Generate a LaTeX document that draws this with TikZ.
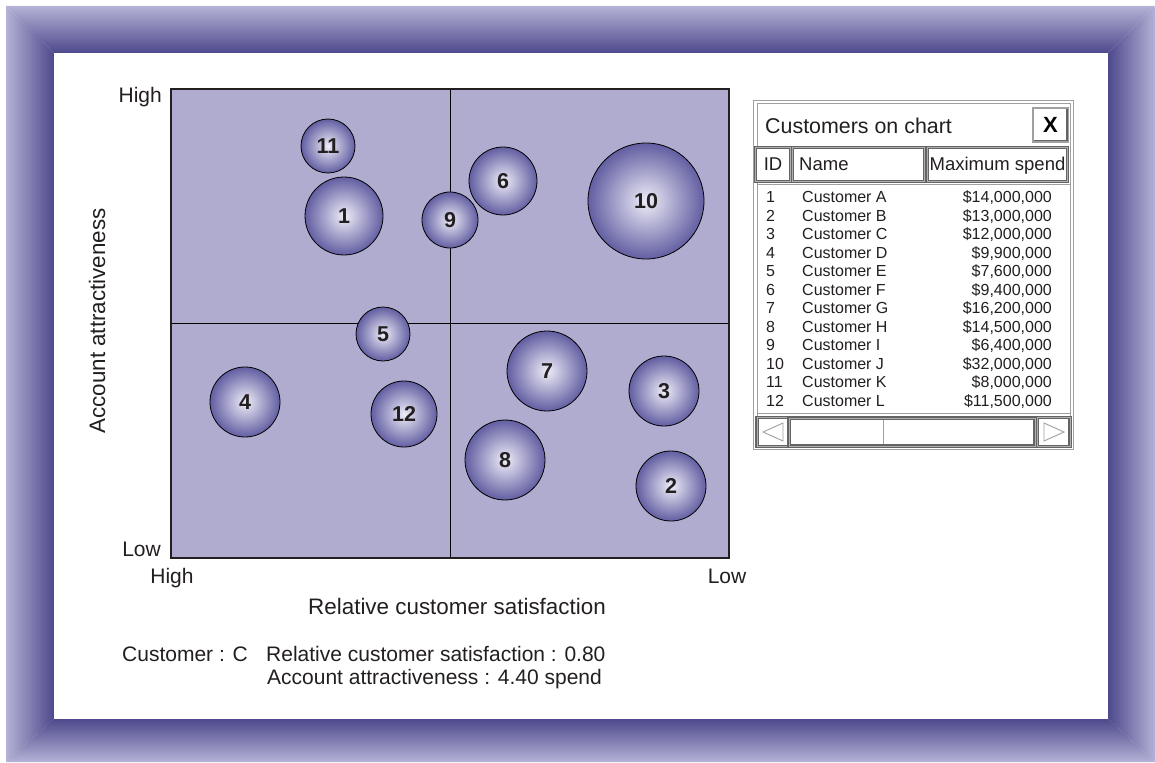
\documentclass[tikz,border=0pt]{standalone}
\usepackage{fontspec}
\setmainfont{Liberation Sans}
\definecolor{frameLight}{RGB}{180,178,214}
\definecolor{frameDark}{RGB}{78,73,140}
\definecolor{plotFill}{RGB}{176,172,207}
\definecolor{bubbleIn}{RGB}{238,237,247}
\definecolor{bubbleOut}{RGB}{98,94,162}
\definecolor{axisCol}{RGB}{35,31,32}
\definecolor{textCol}{RGB}{35,31,32}
\definecolor{panelLine}{RGB}{160,160,160}
\definecolor{panelDark}{RGB}{100,100,100}
\definecolor{panelMid}{RGB}{175,175,175}
\begin{document}
\begin{tikzpicture}[x=1pt,y=-1pt,
  lbl/.style={font=\fontsize{21}{25}\selectfont, text=textCol, inner sep=0pt},
  axtitle/.style={font=\fontsize{22.4}{26}\selectfont, text=textCol, inner sep=0pt},
  rowtxt/.style={font=\fontsize{16}{19}\selectfont, text=textCol, inner sep=0pt},
  hdrtxt/.style={font=\fontsize{18.5}{22}\selectfont, text=textCol, inner sep=0pt},
  bubble/.style={circle, draw=black, line width=0.8pt, inner color=bubbleIn,
    outer color=bubbleOut, font=\fontsize{21.5}{25}\selectfont\bfseries,
    text=textCol, inner sep=0pt, outer sep=0pt},
  hcell/.style={rectangle, draw=panelDark, line width=1.1pt, double=panelMid,
    double distance=0.9pt, fill=white, inner sep=0pt, outer sep=0pt},
  framepart/.style={draw=none}
]
\useasboundingbox (0,0) rectangle (1155,762);
\fill[white] (0,0) rectangle (1155,762);
% ---- gradient frame ----
\shade[framepart, top color=frameLight, bottom color=frameDark]
  (6,6) -- (1155,6) -- (1108,53) -- (54,53) -- cycle;
\shade[framepart, left color=frameLight, right color=frameDark]
  (6,6) -- (54,53) -- (54,719) -- (6,762) -- cycle;
\shade[framepart, left color=frameDark, right color=frameLight]
  (1155,6) -- (1155,762) -- (1108,719) -- (1108,53) -- cycle;
\shade[framepart, top color=frameDark, bottom color=frameLight]
  (54,719) -- (1108,719) -- (1155,762) -- (6,762) -- cycle;
\fill[white] (54,53) rectangle (1108,719);

% ---- plot area ----
\node[rectangle, fill=plotFill, draw=axisCol, line width=2.5pt,
  minimum width=558pt, minimum height=469pt, inner sep=0pt, outer sep=0pt]
  (plot) at (450,323.5) {};
\draw[black, line width=0.8pt] (plot.north) -- (plot.south);
\draw[black, line width=0.8pt] (plot.west) -- (plot.east);
\draw[axisCol, line width=2.5pt] (plot.north west) rectangle (plot.south east);

% ---- bubbles ----
\node[bubble, minimum size=54pt] (b11) at (328,146) {11};
\node[bubble, minimum size=78pt] (b1) at (344,216) {1};
\node[bubble, minimum size=56pt] (b9) at (450,220) {9};
\node[bubble, minimum size=68pt] (b6) at (503,181) {6};
\node[bubble, minimum size=116pt] (b10) at (646,201) {10};
\node[bubble, minimum size=54pt] (b5) at (383,334) {5};
\node[bubble, minimum size=70pt] (b4) at (245,402) {4};
\node[bubble, minimum size=66pt] (b12) at (404,414) {12};
\node[bubble, minimum size=80pt] (b7) at (547,371) {7};
\node[bubble, minimum size=80pt] (b8) at (505,460) {8};
\node[bubble, minimum size=70pt] (b3) at (664,391) {3};
\node[bubble, minimum size=70pt] (b2) at (671,486) {2};

% ---- axis labels ----
\node[lbl, anchor=base east] (yhigh) at (162,103) {High};
\node[lbl, anchor=base east] (ylow) at (161,556) {Low};
\node[lbl, anchor=base] (xhigh) at (172,583) {High};
\node[lbl, anchor=base] (xlow) at (727,583) {Low};
\node[axtitle, anchor=base] (xtitle) at (457,614) {Relative customer satisfaction};
\node[axtitle, rotate=90] (ytitle) at (97,321) {Account attractiveness};

% ---- status text ----
\node[lbl, anchor=base west] (st1) at (122,661) {Customer : C};
\node[lbl, anchor=base west] (st2) at (266,661) {Relative customer satisfaction : 0.80};
\node[lbl, anchor=base west] (st3) at (267,684) {Account attractiveness : 4.40 spend};

% ---- panel ----
\draw[panelLine, line width=1pt, fill=white] (753.5,100.5) rectangle (1073,449);
\draw[panelLine, line width=1pt] (757,103.5) rectangle (1070,446);
\node[axtitle, font=\fontsize{21.4}{25}\selectfont, anchor=base west] (ptitle) at (765,134) {Customers on chart};
\node[rectangle, draw=panelLine, line width=1.5pt, fill=white,
  minimum width=35pt, minimum height=34pt, inner sep=0pt,
  font=\fontsize{22}{25}\selectfont\bfseries, text=black] (xbtn) at (1050.5,125) {X};
\draw[panelDark, line width=1.5pt] ([xshift=-2pt,yshift=-2pt]xbtn.north east) --
  ([xshift=-2pt,yshift=2pt]xbtn.south east) -- ([xshift=2pt,yshift=2pt]xbtn.south west);

\node[hcell, minimum width=35pt, minimum height=34pt] (hid) at (773,164.5) {};
\node[hcell, minimum width=132pt, minimum height=34pt] (hname) at (858.5,164.5) {};
\node[hcell, minimum width=140pt, minimum height=34pt] (hmax) at (997.5,164.5) {};
\node[hdrtxt, anchor=base] (tid) at (hid.center |- 0,171) {ID};
\node[hdrtxt, anchor=base west] (tname) at (799,171) {Name};
\node[hdrtxt, anchor=base] (tmax) at (hmax.center |- 0,171) {Maximum spend};

\draw[panelLine, line width=1pt, fill=white] (757,184.5) rectangle (1070,413);

\foreach \i/\n/\v [count=\k] in {1/Customer A/{\$14,000,000},
    2/Customer B/{\$13,000,000}, 3/Customer C/{\$12,000,000},
    4/Customer D/{\$9,900,000}, 5/Customer E/{\$7,600,000},
    6/Customer F/{\$9,400,000}, 7/Customer G/{\$16,200,000},
    8/Customer H/{\$14,500,000}, 9/Customer I/{\$6,400,000},
    10/Customer J/{\$32,000,000}, 11/Customer K/{\$8,000,000},
    12/Customer L/{\$11,500,000}}{
  \pgfmathsetmacro\yy{197+(\k-1)*18.5+5.7}
  \node[rowtxt, anchor=base west] (rid\k) at (766,\yy) {\i};
  \node[rowtxt, anchor=base west] (rname\k) at (802,\yy) {\n};
  \node[rowtxt, anchor=base east] (rval\k) at (1052,\yy) {\v};
}

% ---- scroll bar ----
\node[hcell, minimum width=32pt, minimum height=29pt] (sleft) at (773,432) {};
\node[hcell, minimum width=33pt, minimum height=29pt] (sright) at (1053.5,432) {};
\node[hcell, minimum width=246pt, minimum height=28pt] (strack) at (912,432) {};
\draw[panelLine, line width=1pt] (883,420) -- (883,444);
\draw[panelLine, line width=0.9pt] (763,432) -- (783,423) -- (783,441) -- cycle;
\draw[panelLine, line width=0.9pt] (1064,432) -- (1044,423) -- (1044,441) -- cycle;
\end{tikzpicture}
\end{document}
